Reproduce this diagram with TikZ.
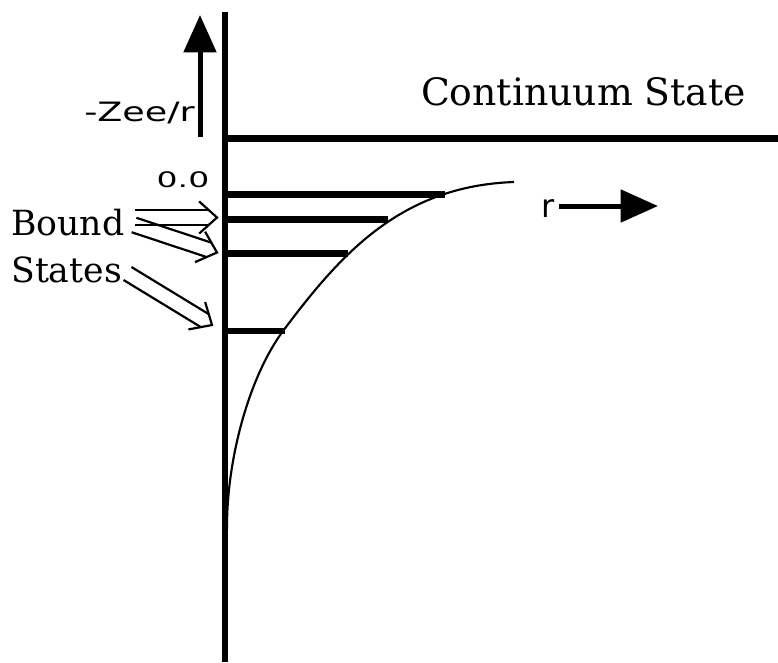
\documentclass[tikz,border=0pt]{standalone}
\usepackage{fontspec}
\setmainfont{DejaVu Serif}
\newfontfamily\gen{DejaVu Sans}
\newfontfamily\genwide[FakeStretch=1.37]{DejaVu Sans}
\newfontfamily\genwider[FakeStretch=1.55]{DejaVu Sans}
\usetikzlibrary{arrows.meta,calc}
\tikzset{
  axisline/.style={line width=4pt},
  hline/.style={line width=4.7pt},
  bigarrow/.style={line width=3.75pt, -{Triangle[length=28pt,width=24pt]}},
  thinl/.style={line width=1.65pt},
  serif/.style={inner sep=0pt, font=\fontsize{26pt}{30pt}\selectfont},
  sanslab/.style={inner sep=0pt},
}
\begin{document}
\begin{tikzpicture}[x=0.75pt,y=-0.75pt]
\useasboundingbox (0,0) rectangle (778,662);
% axes
\coordinate (axtop) at (225,12);
\coordinate (axbot) at (225,662);
\draw[axisline] (axtop) -- (axbot);
\coordinate (contL) at (225,138.5);
\coordinate (contR) at (778,138.5);
\draw[hline] (contL) -- (contR);
% energy levels
\coordinate (l0a) at (225,194.5); \coordinate (l0b) at (445,194.5);
\coordinate (l1a) at (225,219.5); \coordinate (l1b) at (388,219.5);
\coordinate (l2a) at (225,253.5); \coordinate (l2b) at (348,253.5);
\coordinate (l3a) at (225,331);   \coordinate (l3b) at (285,331);
\draw[hline] (l0a) -- (l0b);
\draw[hline] (l1a) -- (l1b);
\draw[hline] (l2a) -- (l2b);
\draw[hline] (l3a) -- (l3b);
% potential curve
\coordinate (cv0) at (226.5,545);
\coordinate (cv1) at (227,527);
\coordinate (cv2) at (283,331);
\coordinate (cv3) at (514,182);
\draw[line width=1.6pt] (cv0) -- (cv1)
  .. controls (227,457) and (249.7,376) .. (cv2)
  .. controls (340,255) and (400,186) .. (cv3);
% up arrow
\coordinate (upbase) at (200,137);
\coordinate (uptip) at (200,15);
\draw[bigarrow] (upbase) -- (uptip);
% r arrow
\coordinate (rbase) at (559,206);
\coordinate (rtip) at (658,206);
\draw[bigarrow] (rbase) -- (rtip);
% labels
\node[sanslab, anchor=base, font=\genwide\fontsize{20pt}{23pt}\selectfont] (zee) at (139.5,121) {-Zee/r};
\node[sanslab, anchor=base, font=\genwider\fontsize{16pt}{19pt}\selectfont] (zero) at (183,187) {0.0};
\node[sanslab, anchor=base west, font=\gen\fontsize{24pt}{26pt}\selectfont] (rlab) at (541,217) {r};
\node[inner sep=0pt, anchor=base, font=\fontsize{28.3pt}{32pt}\selectfont] (cont) at (583.5,105) {Continuum State};
\node[serif, anchor=base west] (bound) at (11,235) {Bound};
\node[serif, anchor=base west] (states) at (11,282) {States};
% hollow double arrows
\coordinate (aS) at (135,217.5);   \coordinate (aT) at (217,217.5);
\coordinate (bS) at (134,225);     \coordinate (bT) at (217,252.5);
\coordinate (cS) at (127.5,273.5); \coordinate (cT) at (212,325);
\foreach \S/\T in {aS/aT,bS/bT,cS/cT}{
  \coordinate (back) at ($(\T)!6.5pt!(\S)$);
  \draw[thinl] ($(\S)!5.7pt!90:(\T)$) -- ($(back)!5.7pt!-90:(\S)$);
  \draw[thinl] ($(\S)!5.7pt!-90:(\T)$) -- ($(back)!5.7pt!90:(\S)$);
  \draw[thinl] ($(\T)!18pt!42:(\S)$) -- (\T) -- ($(\T)!18pt!-42:(\S)$);
}
\end{tikzpicture}
\end{document}
